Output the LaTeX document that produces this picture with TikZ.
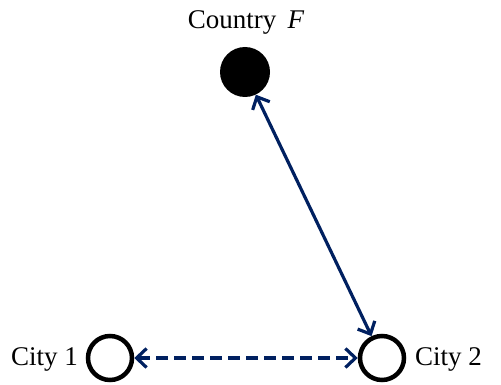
\documentclass[tikz,border=0pt]{standalone}
\usepackage{fontspec}
\setmainfont{Liberation Serif}
\usetikzlibrary{arrows.meta}
\definecolor{navy}{RGB}{0,32,96}
\begin{document}
\begin{tikzpicture}[x=1pt,y=-1pt,
  city/.style={circle,draw=black,line width=4.5pt,minimum size=44pt,inner sep=0pt},
  lbl/.style={font=\fontsize{27}{32}\selectfont,inner sep=0pt},
  link/.style={draw=navy,line width=3.2pt,{Straight Barb[length=10pt,width=19pt,line width=3.2pt]}-{Straight Barb[length=10pt,width=19pt,line width=3.2pt]}}]
\useasboundingbox (0,0) rectangle (501,385);
\node[circle,fill=black,minimum size=50pt,inner sep=0pt] (F) at (245,72) {};
\node[city] (c1) at (110,358) {};
\node[city] (c2) at (382,358) {};
\node[lbl] (tF) at (246,22) {Country\, \textit{F}};
\node[lbl,anchor=east] (t1) at (78,359) {City 1};
\node[lbl,anchor=west] (t2) at (415,359) {City 2};
\draw[link] (F) -- (c2);
\draw[link,dash pattern=on 12pt off 6pt] (c1) -- (c2);
\end{tikzpicture}
\end{document}
